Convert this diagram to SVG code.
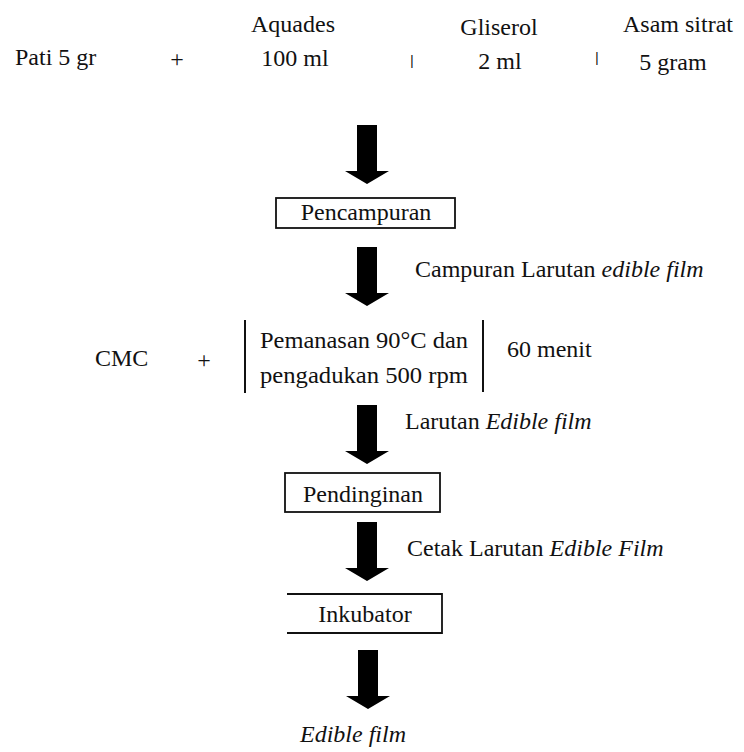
<svg xmlns="http://www.w3.org/2000/svg" width="744" height="752" viewBox="0 0 744 752" font-family="'Liberation Serif', 'DejaVu Serif', 'Times New Roman', serif">
<style>
text{font-family:'Liberation Serif','DejaVu Serif','Times New Roman',serif;font-size:24px;fill:#111}
.c{text-anchor:middle}
.i{font-style:italic}
.box{fill:#fff;stroke:#111;stroke-width:1.8}
.bar{stroke:#111;stroke-width:2}
.arr{fill:#000}
.sep{font-size:15px;font-weight:bold;fill:#000}
</style>
<defs>
<path id="blk" d="M-10,0 H10 V46 H22 L0,59 L-22,46 H-10 Z"/>
</defs>
<rect width="744" height="752" fill="#fff"/>
<g id="connectors">
<use href="#blk" class="arr" x="367" y="125"/>
<use href="#blk" class="arr" x="367" y="247"/>
<use href="#blk" class="arr" x="367" y="405"/>
<use href="#blk" class="arr" x="367" y="522"/>
<use href="#blk" class="arr" x="368" y="650"/>
<text x="415" y="277">Campuran Larutan <tspan class="i">edible film</tspan></text>
<text x="405" y="429">Larutan  <tspan class="i">Edible film</tspan></text>
<text x="407" y="556">Cetak Larutan <tspan class="i">Edible Film</tspan></text>
</g>
<g id="pati"><text x="15" y="65">Pati 5 gr</text></g>
<g id="plus1"><text class="c" x="177" y="67">+</text></g>
<g id="aquades"><text class="c" x="293" y="32">Aquades</text><text class="c" x="295" y="66">100 ml</text></g>
<g id="plus2"><text class="c sep" x="412" y="65">|</text></g>
<g id="gliserol"><text class="c" x="499" y="35">Gliserol</text><text class="c" x="500" y="69">2 ml</text></g>
<g id="plus3"><text class="c sep" x="597" y="62">|</text></g>
<g id="asam"><text class="c" x="678" y="32">Asam sitrat</text><text class="c" x="673" y="70">5 gram</text></g>
<g id="pencampuran"><rect class="box" x="276" y="198" width="179" height="30"/><text class="c" x="366" y="220">Pencampuran</text></g>
<g id="cmc"><text x="95" y="366">CMC</text></g>
<g id="plus4"><text class="c" x="204" y="368">+</text></g>
<g id="pemanasan">
<line class="bar" x1="245" y1="320" x2="245" y2="393"/>
<line class="bar" x1="483" y1="320" x2="483" y2="392"/>
<text x="260" y="348" textLength="208" lengthAdjust="spacingAndGlyphs">Pemanasan 90°C dan</text>
<text x="260" y="383" textLength="208" lengthAdjust="spacingAndGlyphs">pengadukan  500 rpm</text>
</g>
<g id="menit"><text x="507" y="357">60 menit</text></g>
<g id="pendinginan"><rect class="box" x="285" y="473" width="155" height="39"/><text class="c" x="363" y="502">Pendinginan</text></g>
<g id="inkubator"><path class="box" d="M287,594 H442 V633 H287" fill="none"/><text class="c" x="365" y="622">Inkubator</text></g>
<g id="edible"><text class="c i" x="353" y="742">Edible film</text></g>
</svg>
